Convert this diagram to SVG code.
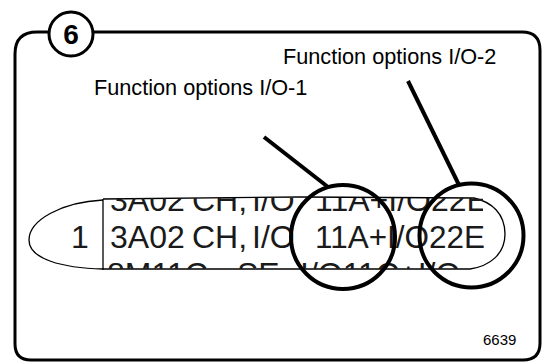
<svg xmlns="http://www.w3.org/2000/svg" width="550" height="363" viewBox="0 0 550 363">
  <style>
    .frame{fill:none;stroke:#000;stroke-width:3}
    .lbl{font-family:"Liberation Sans",Arial,sans-serif;font-size:21.7px;fill:#000}
    .lcd{font-family:"Liberation Sans",Arial,sans-serif;font-size:32px;fill:#1a1a1a}
    .thin{fill:none;stroke:#000;stroke-width:1.3}
    .ring{fill:none;stroke:#000;stroke-width:4}
    .lead{stroke:#000;stroke-width:4;stroke-linecap:butt}
  </style>
  <defs>
    <clipPath id="clipTop"><rect x="103" y="198" width="380" height="20"/></clipPath>
    <clipPath id="clipBot"><rect x="103" y="258" width="370" height="11"/></clipPath>
  </defs>
  <rect width="550" height="363" fill="#fff"/>
  <g id="frame">
    <path class="frame" d="M15,54 Q15,32 37,32 L522,32 Q540,32 540,50 L540,343 Q540,360 523,360 L31,360 Q15,360 15,344 Z"/>
  </g>
  <g id="badge">
    <circle cx="71" cy="34" r="22" fill="#fff" stroke="#000" stroke-width="3"/>
    <text x="71" y="44" text-anchor="middle" font-family="Liberation Sans,Arial,sans-serif" font-size="28" font-weight="bold">6</text>
  </g>
  <g id="label-io1"><text class="lbl" x="94" y="95">Function options I/O-1</text></g>
  <g id="label-io2"><text class="lbl" x="283" y="64">Function options I/O-2</text></g>
  <g id="lcd">
    <path class="thin" d="M103,200 C62,202 29,220 29,240 C29,259 62,268 103,269"/>
    <line class="thin" x1="103" y1="199" x2="103" y2="270"/>
    <path class="thin" d="M103,199 L300,197 L474,198 C492,202 505,214 505,234 C505,254 490,266 470,269 L103,269"/>
    <text class="lcd" x="71" y="248">1</text>
    <g clip-path="url(#clipTop)">
      <text class="lcd" y="211"><tspan x="110">3A02</tspan><tspan x="192">CH,</tspan><tspan x="252">I/O</tspan><tspan x="315">11A+I/O22E</tspan></text>
    </g>
    <text class="lcd" y="248"><tspan x="110">3A02</tspan><tspan x="192">CH,</tspan><tspan x="252">I/O</tspan><tspan x="315" textLength="170" lengthAdjust="spacingAndGlyphs">11A+I/O22E</tspan></text>
    <g clip-path="url(#clipBot)">
      <text class="lcd" y="285"><tspan x="107">8M11C</tspan><tspan x="237">SE</tspan><tspan x="300">I/O11C+I/O</tspan></text>
    </g>
  </g>
  <g id="ring-io1"><circle class="ring" cx="343" cy="237" r="52"/></g>
  <g id="ring-io2"><circle class="ring" cx="471.5" cy="235.5" r="52"/></g>
  <g id="connectors">
    <line class="lead" x1="264" y1="137" x2="328" y2="187"/>
    <line class="lead" x1="408" y1="81" x2="459" y2="185"/>
  </g>
  <g id="figure-number">
    <text x="483" y="345" font-family="Liberation Sans,Arial,sans-serif" font-size="15" fill="#000">6639</text>
  </g>
</svg>
